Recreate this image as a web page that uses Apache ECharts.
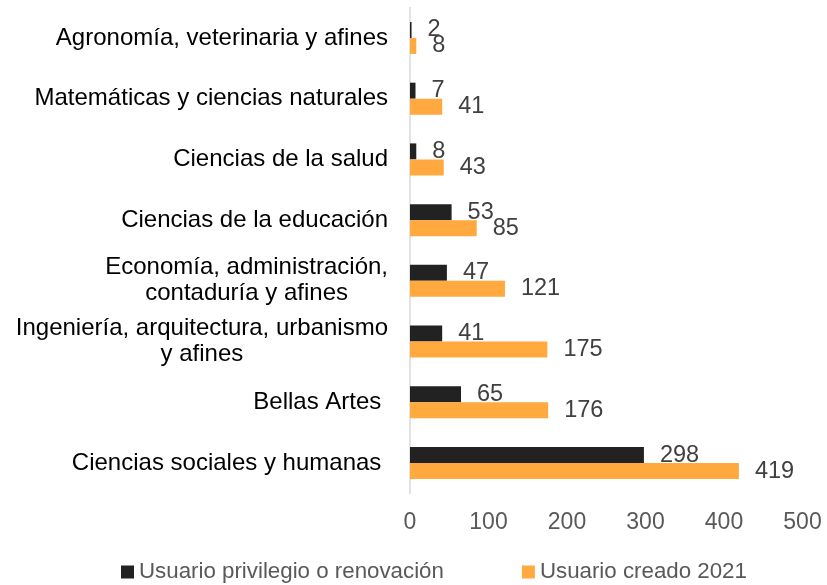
<!DOCTYPE html>
<html>
<head>
<meta charset="utf-8">
<script src="https://cdn.jsdelivr.net/npm/echarts@6/dist/echarts.min.js"></script>
<style>
  * { margin: 0; padding: 0; }
  html, body { width: 827px; height: 585px; background: #fff; }
  #main { width: 827px; height: 585px; }
</style>
</head>
<body>
<div id="main"></div>
<script>
// categorias de abajo hacia arriba
var categories = [
  'Ciencias sociales y humanas ',
  'Bellas Artes ',
  'Ingeniería, arquitectura, urbanismo\ny afines',
  'Economía, administración,\ncontaduría y afines',
  'Ciencias de la educación',
  'Ciencias de la salud',
  'Matemáticas y ciencias naturales',
  'Agronomía, veterinaria y afines'
];
var seriesNames = ['Usuario privilegio o renovación', 'Usuario creado 2021'];
var privilegio = [298, 65, 41, 47, 53, 8, 7, 2];
var creado2021 = [419, 176, 175, 121, 85, 43, 41, 8];
var xTicks = [0, 100, 200, 300, 400, 500];

var FONT = '"Liberation Sans", Arial, sans-serif';

var chart = echarts.init(document.getElementById('main'));

chart.setOption({
  backgroundColor: '#ffffff',
  animation: false,
  legend: {
    data: seriesNames,
    bottom: -3,
    left: 116,
    itemWidth: 13,
    itemHeight: 13,
    itemGap: 78,
    icon: 'rect',
    textStyle: { fontFamily: FONT, fontSize: 22.3, color: '#595959' }
  },
  grid: {
    left: 410,
    right: 24.5,
    top: 7.6,
    bottom: 91.6
  },
  xAxis: {
    type: 'value',
    min: xTicks[0],
    max: xTicks[xTicks.length - 1],
    interval: 100,
    axisLine: { show: false },
    axisTick: { show: false },
    splitLine: { show: false },
    axisLabel: {
      margin: 18,
      fontFamily: FONT,
      fontSize: 23,
      color: '#595959'
    }
  },
  yAxis: {
    type: 'category',
    data: categories,
    axisLine: { show: true, lineStyle: { color: '#d9d9d9', width: 1.5 } },
    axisTick: { show: false },
    axisLabel: {
      margin: 22,
      fontFamily: FONT,
      fontSize: 24,
      color: '#000000',
      lineHeight: 26,
      // lineas centradas dentro del bloque
      formatter: function (v) {
        return v.split('\n').map(function (s) { return '{c|' + s + '}'; }).join('\n');
      },
      rich: {
        c: { align: 'center', fontFamily: FONT, fontSize: 24, color: '#000000', lineHeight: 26 }
      }
    }
  },
  series: [
    {
      name: seriesNames[0],
      type: 'bar',
      data: privilegio,
      barWidth: 16,
      barGap: '0%',
      itemStyle: { color: '#222222' },
      label: {
        show: true,
        position: 'right',
        distance: 16,
        fontFamily: FONT,
        fontSize: 23.5,
        color: '#404040'
      }
    },
    {
      name: seriesNames[1],
      type: 'bar',
      data: creado2021,
      barWidth: 16,
      barGap: '0%',
      itemStyle: { color: '#FFA93F' },
      label: {
        show: true,
        position: 'right',
        distance: 16,
        fontFamily: FONT,
        fontSize: 23.5,
        color: '#404040'
      }
    }
  ]
});
</script>
</body>
</html>
